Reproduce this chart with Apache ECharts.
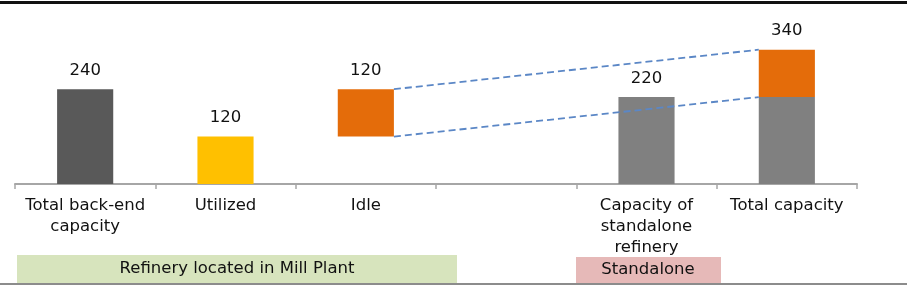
<!DOCTYPE html>
<html>
<head>
<meta charset="utf-8">
<script src="https://cdn.jsdelivr.net/npm/echarts@6/dist/echarts.min.js"></script>
<style>
  html, body { margin: 0; padding: 0; background: #fff; }
  #chart { width: 907px; height: 286px; }
</style>
</head>
<body>
<div id="chart"></div>
<script>
// categories on the x axis
const categories = ['Total back-end\ncapacity', 'Utilized', 'Idle', '', 'Capacity of\nstandalone\nrefinery', 'Total capacity']
// invisible base so the idle bar floats
const baseValues = [0, 0, 120, 0, 0, 0]
// main bars
const lowerValues = [240, 120, 120, '-', 220, 220]
// orange top of the total bar
const upperValues = ['-', '-', '-', '-', '-', 120]
// value shown above each bar
const totalLabels = [240, 120, 120, '', 220, 340]
// bottom groups
const groupNames = ['Refinery located in Mill Plant', 'Standalone']

const lowerColors = ['#595959', '#ffc000', '#e46c0a', '#808080', '#808080', '#808080']
const orange = '#e46c0a'
const font = 'DejaVu Sans'
const fontSize = 16.5

// bar takes 40% of a category, connectors join bar edges
const barRatio = 0.4
const half = barRatio / 2

const chart = echarts.init(document.getElementById('chart'))

const option = {
    animation: false,
    grid: { left: 15, right: 50, top: 26, bottom: 102 },
    xAxis: [
        {
            type: 'category',
            data: categories,
            axisLine: { lineStyle: { color: '#a6a6a6', width: 2 } },
            axisTick: { show: true, length: 5, lineStyle: { color: '#a6a6a6', width: 1.5 } },
            axisLabel: {
                interval: 0,
                margin: 11,
                fontFamily: font,
                fontSize: fontSize,
                lineHeight: 21,
                color: '#111'
            }
        },
        {
            type: 'value',
            min: 0,
            max: categories.length,
            show: false
        }
    ],
    yAxis: {
        type: 'value',
        min: 0,
        max: 400,
        show: false,
        splitLine: { show: false }
    },
    series: [
        {
            type: 'bar',
            stack: 'cap',
            barWidth: barRatio * 100 + '%',
            data: baseValues,
            itemStyle: { color: 'transparent' },
            silent: true
        },
        {
            type: 'bar',
            stack: 'cap',
            data: lowerValues.map((v, i) => ({ value: v, itemStyle: { color: lowerColors[i] } })),
            label: {
                show: true,
                position: 'top',
                distance: 10,
                fontFamily: font,
                fontSize: fontSize,
                color: '#111',
                formatter: p => (upperValues[p.dataIndex] === '-' ? String(totalLabels[p.dataIndex]) : '')
            }
        },
        {
            type: 'bar',
            stack: 'cap',
            data: upperValues,
            itemStyle: { color: orange },
            label: {
                show: true,
                position: 'top',
                distance: 10,
                fontFamily: font,
                fontSize: fontSize,
                color: '#111',
                formatter: p => String(totalLabels[p.dataIndex])
            }
        },
        // dashed connectors: idle bar -> total bar
        {
            type: 'line',
            xAxisIndex: 1,
            symbol: 'none',
            silent: true,
            z: 5,
            lineStyle: { color: '#5b87c6', width: 1.8, type: [7, 4] },
            data: [[2.5 + half, baseValues[2] + lowerValues[2]], [5.5 - half, lowerValues[5] + upperValues[5]]]
        },
        {
            type: 'line',
            xAxisIndex: 1,
            symbol: 'none',
            silent: true,
            z: 5,
            lineStyle: { color: '#5b87c6', width: 1.8, type: [7, 4] },
            data: [[2.5 + half, baseValues[2]], [5.5 - half, lowerValues[5]]]
        }
    ],
    graphic: [
        { type: 'rect', left: 0, top: 1, shape: { width: 907, height: 3 }, style: { fill: '#111' }, silent: true },
        { type: 'rect', left: 0, top: 283, shape: { width: 907, height: 2 }, style: { fill: '#8c8c8c' }, silent: true },
        {
            type: 'rect', left: 17, top: 255, shape: { width: 440, height: 28 },
            style: { fill: '#d7e4bd' }, silent: true
        },
        {
            type: 'text', x: 237, y: 269,
            style: { text: groupNames[0], fontFamily: font, fontSize: fontSize, fill: '#111', align: 'center', verticalAlign: 'middle' }
        },
        {
            type: 'rect', left: 576, top: 257, shape: { width: 145, height: 26 },
            style: { fill: '#e6b9b8' }, silent: true
        },
        {
            type: 'text', x: 648, y: 270,
            style: { text: groupNames[1], fontFamily: font, fontSize: fontSize, fill: '#111', align: 'center', verticalAlign: 'middle' }
        }
    ]
}

chart.setOption(option)
</script>
</body>
</html>
